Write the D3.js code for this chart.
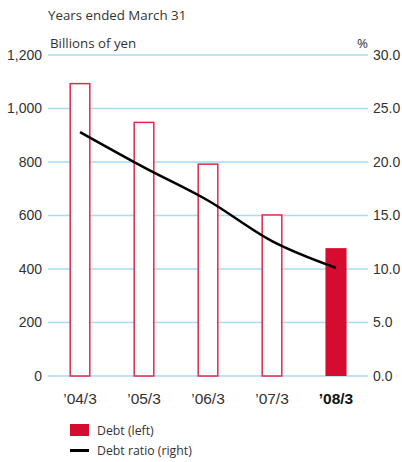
<!DOCTYPE html>
<html>
<head>
<meta charset="utf-8">
<script src="https://cdn.jsdelivr.net/npm/d3@7"></script>
<style>
  html, body { margin: 0; padding: 0; background: #fff; }
  svg { display: block; font-family: "Open Sans", "Noto Sans", sans-serif; }
</style>
</head>
<body>
<svg id="chart" width="402" height="462"></svg>
<script>
// Fiscal years (ended March 31)
const years = ["’04/3", "’05/3", "’06/3", "’07/3", "’08/3"];
// Debt, billions of yen
const debt = [1093, 948, 792, 602, 478];
// Debt ratio, %
const debtRatio = [22.8, 19.5, 16.4, 12.6, 10.1];
// Axis ticks
const leftTicks = [0, 200, 400, 600, 800, 1000, 1200];
const rightTicks = [0, 5, 10, 15, 20, 25, 30];

const svg = d3.select("#chart");
const m = { left: 48, right: 368, top: 55, bottom: 376 };
const red = "#d60b30";
const grid = "#a6dbf1";
const textCol = "#333";

const x = d3.scaleBand().domain(years).range([m.left, m.right]).paddingInner(0.67).paddingOuter(0.335);
const yL = d3.scaleLinear().domain([0, 1200]).range([m.bottom, m.top]);
const yR = d3.scaleLinear().domain([0, 30]).range([m.bottom, m.top]);

// Gridlines
svg.append("g").selectAll("line").data(leftTicks).join("line")
  .attr("x1", m.left).attr("x2", m.right)
  .attr("y1", d => yL(d)).attr("y2", d => yL(d))
  .attr("stroke", grid).attr("stroke-width", 1.5);

// Left axis
const leftAxis = svg.append("g").attr("transform", `translate(${m.left},0)`)
  .call(d3.axisLeft(yL).tickValues(leftTicks).tickSize(0).tickPadding(6).tickFormat(d3.format(",")));
leftAxis.select(".domain").remove();
leftAxis.selectAll("text").attr("font-size", 14).attr("fill", textCol).attr("font-family", null);

// Right axis
const rightAxis = svg.append("g").attr("transform", `translate(${m.right},0)`)
  .call(d3.axisRight(yR).tickValues(rightTicks).tickSize(0).tickPadding(5).tickFormat(d3.format(".1f")));
rightAxis.select(".domain").remove();
rightAxis.selectAll("text").attr("font-size", 14).attr("fill", textCol).attr("font-family", null);

// Bottom axis labels
const bottomAxis = svg.append("g").attr("transform", `translate(0,${m.bottom})`)
  .call(d3.axisBottom(x).tickSize(0).tickPadding(17));
bottomAxis.select(".domain").remove();
bottomAxis.selectAll("text")
  .attr("font-size", 15.5).attr("font-family", null)
  .attr("font-weight", (d, i) => i === years.length - 1 ? "bold" : null)
  .attr("fill", (d, i) => i === years.length - 1 ? "#111" : textCol);

// Bars: past years outlined, latest filled
svg.append("g").selectAll("rect").data(debt).join("rect")
  .attr("x", (d, i) => x(years[i]) + (i === debt.length - 1 ? 0 : 0.75))
  .attr("width", (d, i) => x.bandwidth() - (i === debt.length - 1 ? 0 : 1.5))
  .attr("y", d => yL(d))
  .attr("height", d => yL(0) - yL(d))
  .attr("fill", (d, i) => i === debt.length - 1 ? red : "#fff")
  .attr("stroke", (d, i) => i === debt.length - 1 ? "none" : "#e0294a")
  .attr("stroke-width", 1.5);

// Debt ratio line
const line = d3.line()
  .x((d, i) => x(years[i]) + x.bandwidth() / 2)
  .y(d => yR(d))
  .curve(d3.curveMonotoneX);
svg.append("path").datum(debtRatio)
  .attr("d", line)
  .attr("fill", "none").attr("stroke", "#000").attr("stroke-width", 2.5);

// Titles
svg.append("text").attr("x", 48).attr("y", 20).attr("font-size", 13.3).attr("fill", textCol).text("Years ended March 31");
svg.append("text").attr("x", 50).attr("y", 48).attr("font-size", 13.3).attr("fill", textCol).text("Billions of yen");
svg.append("text").attr("x", 368).attr("y", 48).attr("text-anchor", "end").attr("font-size", 13.3).attr("fill", textCol).text("%");

// Legend
const lg = svg.append("g");
lg.append("rect").attr("x", 70).attr("y", 424).attr("width", 19).attr("height", 12).attr("fill", red);
lg.append("text").attr("x", 97).attr("y", 434.5).attr("font-size", 12.3).attr("fill", textCol).text("Debt (left)");
lg.append("line").attr("x1", 70).attr("x2", 89).attr("y1", 450.5).attr("y2", 450.5).attr("stroke", "#000").attr("stroke-width", 3);
lg.append("text").attr("x", 97).attr("y", 455).attr("font-size", 12.3).attr("fill", textCol).text("Debt ratio (right)");
</script>
</body>
</html>
